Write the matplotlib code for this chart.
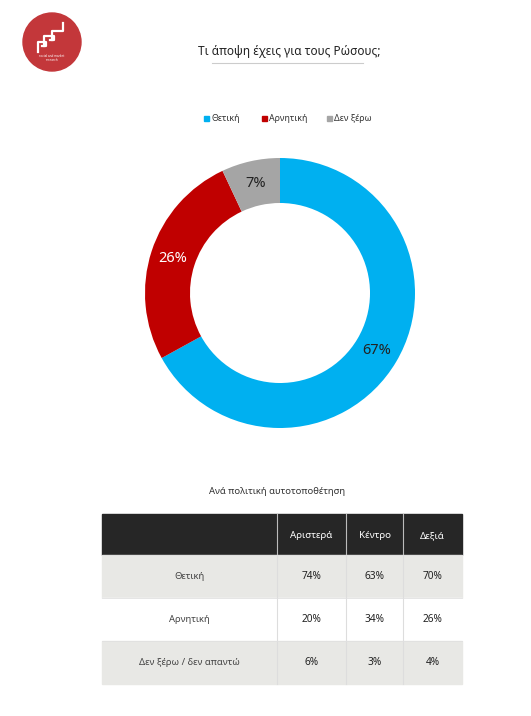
import matplotlib

matplotlib.use('Agg')
import matplotlib.pyplot as plt
from matplotlib.patches import Rectangle, Circle

plt.rcParams['font.family'] = ['Noto Sans', 'DejaVu Sans']

W, H = 531, 716

# δεδομένα
TITLE = "Τι άποψη έχεις για τους Ρώσους;"
LABELS = ["Θετική", "Αρνητική", "Δεν ξέρω"]
VALUES = [67, 26, 7]
COLORS = ["#00B0F0", "#C00000", "#A5A5A5"]
PCT_COLORS = ["#222222", "white", "#222222"]

TABLE_TITLE = "Ανά πολιτική αυτοτοποθέτηση"
COLUMNS = ["Αριστερά", "Κέντρο", "Δεξιά"]
ROWS = ["Θετική", "Αρνητική", "Δεν ξέρω / δεν απαντώ"]
CELLS = [
    ["74%", "63%", "70%"],
    ["20%", "34%", "26%"],
    ["6%", "3%", "4%"],
]

fig = plt.figure(figsize=(W / 100, H / 100), dpi=100)
fig.patch.set_facecolor("white")

# φόντο σε pixel συντεταγμένες
bg = fig.add_axes([0, 0, 1, 1])
bg.set_xlim(0, W)
bg.set_ylim(H, 0)
bg.axis("off")

# λογότυπο
bg.add_patch(Circle((52, 42), 29, color="#C3373A"))
bg.plot([38, 38, 46, 46, 42], [52, 42, 42, 46, 46], color="white", lw=1.6)
bg.plot([44, 44, 54, 54, 50], [46, 36, 36, 40, 40], color="white", lw=1.6)
bg.plot([52, 52, 63, 63], [40, 31, 31, 23], color="white", lw=1.6)
bg.text(52, 58, "social and market\nresearch", ha="center", va="center",
        fontsize=2.2, color="white", linespacing=1.0)

# τίτλος
bg.text(289, 52, TITLE, ha="center", va="center", fontsize=8.5, color="#222222")
bg.plot([212, 363], [63, 63], color="#CCCCCC", lw=0.8)

# υπόμνημα
leg_x = [204, 262, 327]
for x, lab, col in zip(leg_x, LABELS, COLORS):
    bg.add_patch(Rectangle((x, 116), 4.5, 4.5, color=col))
    bg.text(x + 7, 118.5, lab, ha="left", va="center", fontsize=6.4, color="#333333")

# ντόνατ
ax = fig.add_axes([145 / W, 1 - 428 / H, 270 / W, 270 / H])
wedges, texts, autotexts = ax.pie(
    VALUES, colors=COLORS, startangle=90, counterclock=False,
    radius=1, wedgeprops=dict(width=1 / 3, edgecolor="none"),
    autopct="%d%%", pctdistance=0.833,
    textprops=dict(fontsize=10.5),
)
for t, c in zip(autotexts, PCT_COLORS):
    t.set_color(c)
ax.set_xlim(-1, 1)
ax.set_ylim(-1, 1)
ax.set_aspect("equal")
ax.axis("off")

# πίνακας
bg.text(277, 492, TABLE_TITLE, ha="center", va="center", fontsize=6.8, color="#333333")
col_x = [102, 277, 346, 403, 462]
row_y = [514, 555, 598, 641, 684]
row_bg = ["#E8E8E5", "white", "#E8E8E5"]

bg.add_patch(Rectangle((col_x[0], row_y[0]), col_x[-1] - col_x[0], row_y[1] - row_y[0],
                       color="#262626"))
for j, name in enumerate(COLUMNS):
    xc = (col_x[j + 1] + col_x[j + 2]) / 2
    bg.text(xc, (row_y[0] + row_y[1]) / 2 + 1, name, ha="center", va="center",
            fontsize=7, color="white")

for i, rname in enumerate(ROWS):
    y0, y1 = row_y[i + 1], row_y[i + 2]
    bg.add_patch(Rectangle((col_x[0], y0), col_x[-1] - col_x[0], y1 - y0,
                           color=row_bg[i]))
    yc = (y0 + y1) / 2
    bg.text((col_x[0] + col_x[1]) / 2, yc, rname, ha="center", va="center",
            fontsize=6.8, color="#444444")
    for j, val in enumerate(CELLS[i]):
        xc = (col_x[j + 1] + col_x[j + 2]) / 2
        bg.text(xc, yc, val, ha="center", va="center", fontsize=7.3, color="#222222")

# γραμμές πίνακα
for x in col_x[1:-1]:
    bg.plot([x, x], [row_y[0], row_y[1]], color="#BBBBBB", lw=0.8)
    bg.plot([x, x], [row_y[1], row_y[-1]], color="#DDDDDD", lw=0.8)
for y in row_y[1:-1]:
    bg.plot([col_x[0], col_x[-1]], [y, y], color="#E0E0E0", lw=0.6)

fig.savefig("out.png", dpi=100, facecolor="white")
